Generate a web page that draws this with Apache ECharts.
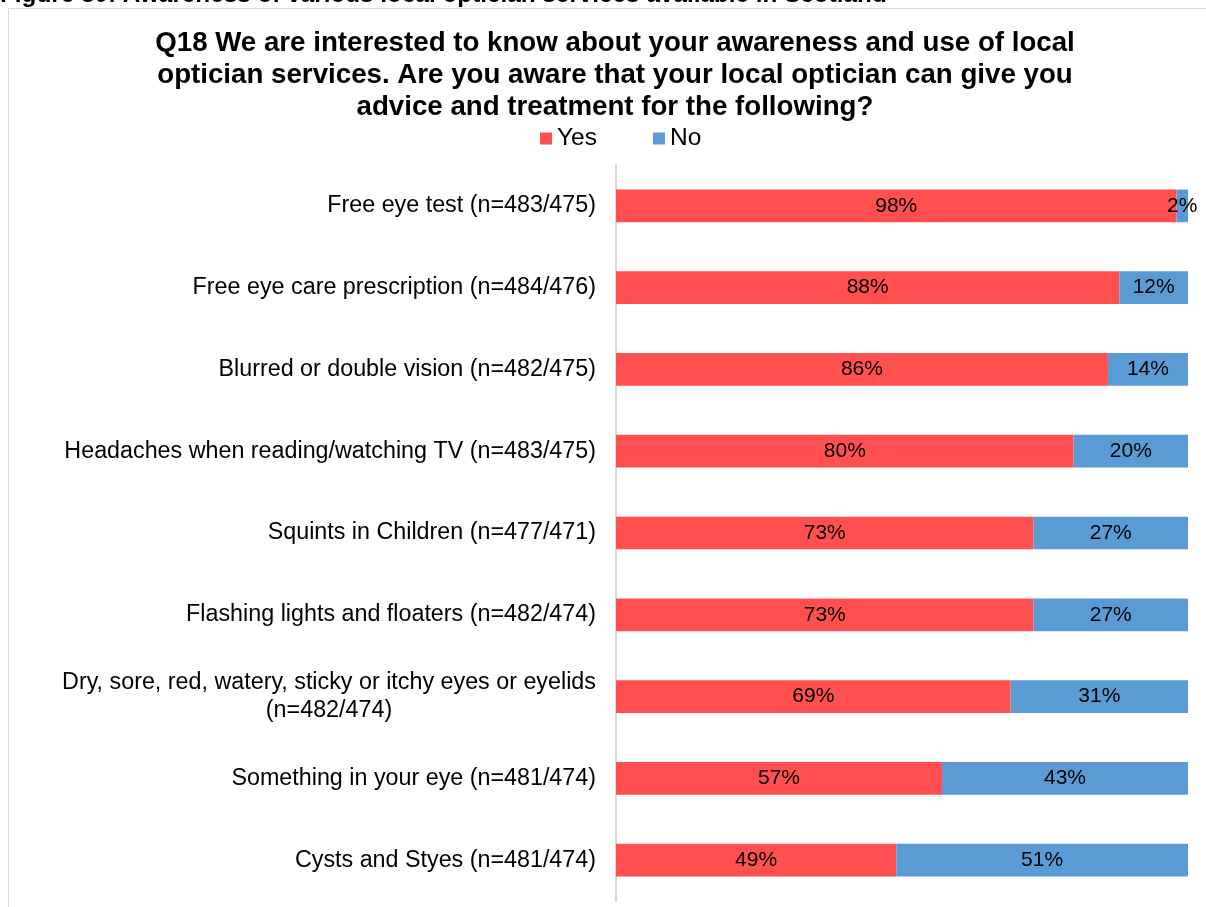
<!DOCTYPE html>
<html>
<head>
<meta charset="utf-8">
<script src="https://cdn.jsdelivr.net/npm/echarts@6/dist/echarts.min.js"></script>
<style>
  html, body { margin: 0; padding: 0; background: #fff; }
  #chart { width: 1206px; height: 907px; }
</style>
</head>
<body>
<div id="chart"></div>
<script>
// Survey items (top to bottom)
const categories = [
  'Free eye test (n=483/475)',
  'Free eye care prescription (n=484/476)',
  'Blurred or double vision (n=482/475)',
  'Headaches when reading/watching TV (n=483/475)',
  'Squints in Children (n=477/471)',
  'Flashing lights and floaters (n=482/474)',
  'Dry, sore, red, watery, sticky or itchy eyes or eyelids\n(n=482/474)',
  'Something in your eye (n=481/474)',
  'Cysts and Styes (n=481/474)'
];
// Share of respondents (%)
const yesValues = [98, 88, 86, 80, 73, 73, 69, 57, 49];
const noValues  = [2, 12, 14, 20, 27, 27, 31, 43, 51];

const FONT = 'Liberation Sans, Arial, sans-serif';

const chart = echarts.init(document.getElementById('chart'), null, { renderer: 'canvas' });

const pctLabel = {
  show: true,
  position: 'inside',
  formatter: p => p.value + '%',
  color: '#000',
  fontFamily: FONT,
  fontSize: 21
};

// Multi-line category names are centred line by line, single lines right-aligned
function categoryLabel(value) {
  const lines = value.split('\n');
  if (lines.length === 1) return value;
  return lines.map(l => '{c|' + l + '}').join('\n');
}

chart.setOption({
  animation: false,
  backgroundColor: '#fff',
  title: {
    text: 'Q18 We are interested to know about your awareness and use of local\noptician services. Are you aware that your local optician can give you\nadvice and treatment for the following?',
    left: 610,
    textAlign: 'center',
    top: 22,
    textStyle: {
      fontFamily: FONT,
      fontWeight: 'bold',
      fontSize: 27.7,
      lineHeight: 32,
      color: '#000'
    }
  },
  legend: {
    top: 121,
    left: 535,
    itemWidth: 12,
    itemHeight: 12,
    itemGap: 56,
    icon: 'rect',
    textStyle: { fontFamily: FONT, fontSize: 24.5, color: '#000', padding: [0, 0, 0, 0] },
    data: ['Yes', 'No']
  },
  graphic: [
    {
      type: 'rect',
      shape: { x: 8.5, y: 8.5, width: 1400, height: 1000 },
      style: { fill: 'none', stroke: '#D9D9D9', lineWidth: 1 },
      z: -1
    },
    {
      type: 'text',
      left: 0,
      top: -17,
      style: {
        text: 'Figure 30: Awareness of various local optician services available in Scotland',
        font: 'bold 24.3px ' + FONT,
        fill: '#000'
      }
    }
  ],
  grid: { left: 616, right: 18, top: 165, bottom: 6, containLabel: false },
  xAxis: {
    type: 'value',
    min: 0,
    max: 100,
    show: false
  },
  yAxis: {
    type: 'category',
    data: categories,
    inverse: true,
    axisLine: { show: true, lineStyle: { color: '#D9D9D9', width: 2 } },
    axisTick: { show: false },
    axisLabel: {
      margin: 20,
      fontFamily: FONT,
      fontSize: 23.3,
      lineHeight: 28,
      color: '#000',
      align: 'right',
      formatter: categoryLabel,
      rich: {
        c: { width: 534, align: 'center', fontFamily: FONT, fontSize: 23.3, lineHeight: 28, color: '#000' }
      }
    }
  },
  series: [
    {
      name: 'Yes',
      type: 'bar',
      stack: 'total',
      data: yesValues,
      barWidth: '40%',
      itemStyle: { color: '#FF4F4F' },
      label: pctLabel
    },
    {
      name: 'No',
      type: 'bar',
      stack: 'total',
      data: noValues,
      barWidth: '40%',
      itemStyle: { color: '#5B9BD5' },
      label: pctLabel
    }
  ]
});
</script>
</body>
</html>
